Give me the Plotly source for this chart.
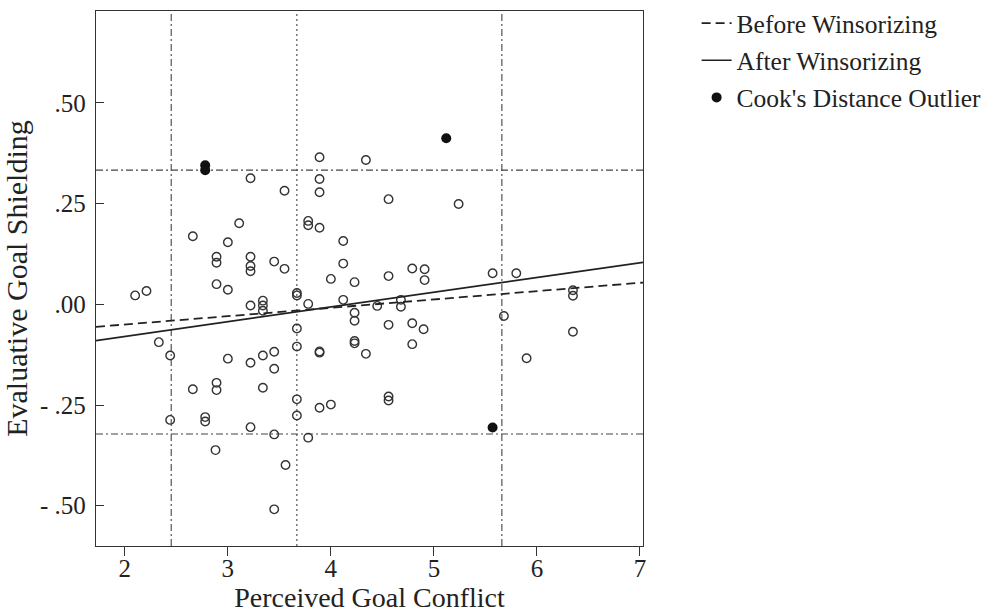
import plotly.graph_objects as go

# ---- data ----
x_open = [2.10, 2.21, 2.33, 2.44, 2.44, 2.66, 2.66, 2.78, 2.78, 2.89,
          2.89, 2.89, 2.89, 2.89, 2.88, 3.00, 3.00, 3.00, 3.11, 3.22,
          3.22, 3.22, 3.22, 3.22, 3.22, 3.22, 3.34, 3.34, 3.34, 3.34,
          3.34, 3.45, 3.45, 3.45, 3.45, 3.45, 3.55, 3.55, 3.56, 3.67,
          3.67, 3.67, 3.67, 3.67, 3.67, 3.78, 3.78, 3.78, 3.78, 3.89,
          3.89, 3.89, 3.89, 3.89, 3.89, 3.89, 4.00, 4.00, 4.12, 4.12,
          4.12, 4.23, 4.23, 4.23, 4.23, 4.23, 4.34, 4.34, 4.45, 4.56,
          4.56, 4.56, 4.56, 4.56, 4.68, 4.68, 4.79, 4.79, 4.79, 4.91,
          4.91, 4.90, 5.24, 5.57, 5.68, 5.80, 5.90, 6.35, 6.35, 6.35]
y_open = [0.022, 0.033, -0.094, -0.127, -0.287, 0.169, -0.211, -0.280, -0.291, 0.118,
          0.103, 0.050, -0.195, -0.213, -0.362, 0.154, 0.036, -0.135, 0.201, 0.313,
          0.118, 0.095, 0.082, -0.003, -0.145, -0.305, 0.009, -0.003, -0.016, -0.127,
          -0.207, 0.106, -0.118, -0.160, -0.323, -0.509, 0.282, 0.088, -0.399, 0.028,
          0.022, -0.060, -0.105, -0.236, -0.276, 0.207, 0.196, 0.001, -0.331, 0.365,
          0.311, 0.278, 0.190, -0.120, -0.117, -0.257, 0.063, -0.249, 0.157, 0.101,
          0.011, 0.055, -0.021, -0.041, -0.091, -0.097, 0.358, -0.123, -0.004, 0.261,
          0.070, -0.051, -0.229, -0.239, 0.011, -0.006, 0.089, -0.047, -0.099, 0.087,
          0.060, -0.062, 0.249, 0.077, -0.029, 0.077, -0.134, 0.035, 0.021, -0.068]

x_cook = [2.78, 2.78, 5.12, 5.57]
y_cook = [0.345, 0.333, 0.412, -0.306]

fit_x = [1.72, 7.03]
fit_before = [-0.056, 0.054]
fit_after = [-0.090, 0.104]

cut_x_dashdot = [2.45, 5.66]
cut_x_dotted = [3.67]
cut_y_dashdot = [-0.322, 0.333]

x_range = [1.72, 7.03]
y_range = [-0.600, 0.728]
x_ticks = [2, 3, 4, 5, 6, 7]
y_ticks = [-0.50, -0.25, 0.00, 0.25, 0.50]
y_ticklabels = ["- .50", "- .25", ".00", ".25", ".50"]

legend_names = ["Before Winsorizing", "After Winsorizing", "Cook's Distance Outlier"]

INK = "#222222"
FONT = "Liberation Serif"

fig = go.Figure()

fig.add_trace(go.Scatter(
    x=x_open, y=y_open, mode="markers", showlegend=False,
    marker=dict(symbol="circle-open", size=8.5, color="#333333", line=dict(width=1.4)),
    hoverinfo="x+y"))

fig.add_trace(go.Scatter(
    x=fit_x, y=fit_before, mode="lines", name=legend_names[0], legendgroup="a",
    line=dict(color=INK, width=1.8, dash="9px,5px")))
fig.add_trace(go.Scatter(
    x=fit_x, y=fit_after, mode="lines", name=legend_names[1], legendgroup="b",
    line=dict(color=INK, width=1.7)))
fig.add_trace(go.Scatter(
    x=x_cook, y=y_cook, mode="markers", name=legend_names[2], legendgroup="c",
    marker=dict(symbol="circle", size=10, color="#111111")))

for xv in cut_x_dashdot:
    fig.add_shape(type="line", xref="x", yref="paper", x0=xv, x1=xv, y0=0, y1=1,
                  line=dict(color="#444", width=1.1, dash="7px,3px,2px,3px"), layer="below")
for xv in cut_x_dotted:
    fig.add_shape(type="line", xref="x", yref="paper", x0=xv, x1=xv, y0=0, y1=1,
                  line=dict(color="#444", width=1.1, dash="2px,3px"), layer="below")
for yv in cut_y_dashdot:
    fig.add_shape(type="line", xref="paper", yref="y", x0=0, x1=1, y0=yv, y1=yv,
                  line=dict(color="#444", width=1.1, dash="7px,3px,2px,3px"), layer="below")

fig.update_layout(
    width=998, height=614,
    margin=dict(l=96, r=355, t=11, b=68, autoexpand=False),
    paper_bgcolor="white", plot_bgcolor="white",
    font=dict(family=FONT, size=25, color=INK),
    legend=dict(xref="container", yref="container", x=0.698, y=1.0,
                xanchor="left", yanchor="top",
                font=dict(family=FONT, size=25.5, color=INK),
                bgcolor="rgba(0,0,0,0)", tracegroupgap=1, itemwidth=30),
)
fig.update_xaxes(
    range=x_range, tickvals=x_ticks, ticks="outside", ticklen=9, tickwidth=1.2,
    tickcolor="#333", showline=True, mirror=True, linecolor="#333", linewidth=1.3,
    showgrid=False, zeroline=False, ticklabelstandoff=-9,
    title=dict(text="Perceived Goal Conflict", standoff=0,
               font=dict(family=FONT, size=28, color=INK)))
fig.update_yaxes(
    range=y_range, tickvals=y_ticks, ticktext=y_ticklabels, ticks="inside", ticklen=8,
    tickwidth=1.2, tickcolor="#333", showline=True, mirror=True, linecolor="#333",
    linewidth=1.3, showgrid=False, zeroline=False, ticklabelstandoff=4,
    title=dict(text="Evaluative Goal Shielding", standoff=10,
               font=dict(family=FONT, size=30, color=INK)))

fig.write_html("out.html")
